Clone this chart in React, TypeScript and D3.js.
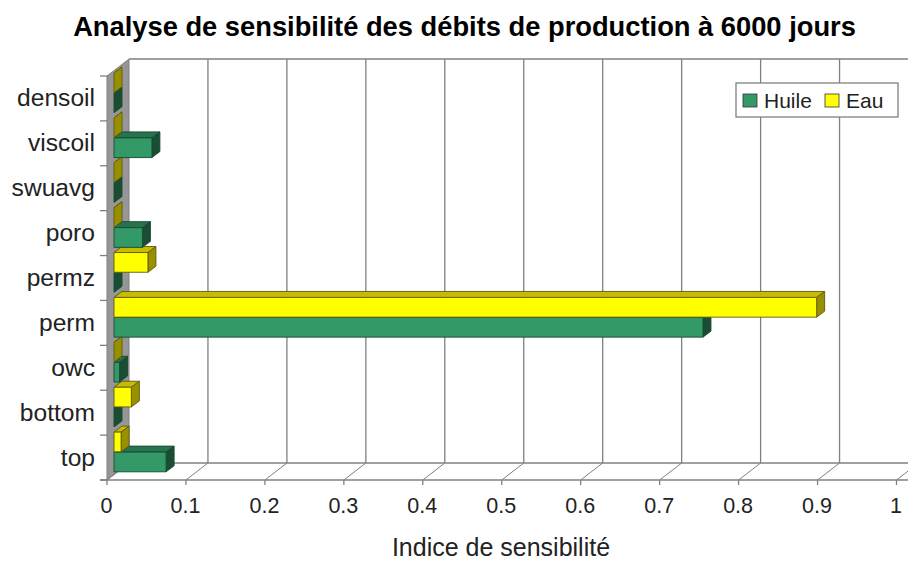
import React from "react";
import * as d3 from "d3";

const categories = ["densoil", "viscoil", "swuavg", "poro", "permz", "perm", "owc", "bottom", "top"];
const huile = [0, 0.048, 0, 0.036, 0, 0.746, 0.007, 0, 0.066];
const eau = [0, 0, 0, 0, 0.043, 0.89, 0, 0.022, 0.009];
const ticks = [0, 0.1, 0.2, 0.3, 0.4, 0.5, 0.6, 0.7, 0.8, 0.9, 1];

const W = 908, H = 561;
const font = "'Liberation Sans', Arial, sans-serif";
const x = d3.scaleLinear().domain([0, 1]).range([107, 896.5]);
const y = d3.scaleBand<string>().domain(categories).range([76, 480]);
const backDx = 22, backDy = -17;
const barDx = 7, barDy = -5.5;
const depthX = 8, depthY = -6;
const grid = "#808080";

const series = [
  { name: "Huile", values: huile, face: "#339966", top: "#26734d", side: "#1a4d33", offset: 22.5, stroke: "#174a30" },
  { name: "Eau", values: eau, face: "#ffff00", top: "#c8bc00", side: "#999000", offset: 2.5, stroke: "#5e5a10" },
];
const barH = 19.7;

function Bar({ v, cat, s }: { v: number; cat: string; s: (typeof series)[number] }) {
  const x0 = x(0) + barDx;
  const x1 = x(v) + barDx;
  const y0 = (y(cat) as number) + barDy + s.offset;
  const y1 = y0 + barH;
  const pts = (p: number[][]) => p.map((a) => a.join(",")).join(" ");
  return (
    <g stroke={s.stroke} strokeWidth={0.9} strokeLinejoin="round">
      <polygon fill={s.top} points={pts([[x0, y0], [x0 + depthX, y0 + depthY], [x1 + depthX, y0 + depthY], [x1, y0]])} />
      <polygon fill={s.side} points={pts([[x1, y0], [x1 + depthX, y0 + depthY], [x1 + depthX, y1 + depthY], [x1, y1]])} />
      {v > 0 && <rect x={x0} y={y0} width={x1 - x0} height={barH} fill={s.face} />}
    </g>
  );
}

export default function App() {
  const top = y.range()[0], bottom = y.range()[1];
  const ink = "#222";
  const indices = categories.map((_, i) => i);
  return (
    <svg width={W} height={H} viewBox={`0 0 ${W} ${H}`} style={{ position: "absolute", left: 0, top: 0, background: "#fff" }}>
      <text x={464.5} y={36} textAnchor="middle" fontFamily={font} fontWeight="bold" fontSize={27.3} fill="#000">
        Analyse de sensibilité des débits de production à 6000 jours
      </text>

      {/* left wall */}
      <polygon
        points={`${x(0)},${top} ${x(0) + backDx},${top + backDy} ${x(0) + backDx},${bottom + backDy} ${x(0)},${bottom}`}
        fill="#969696" stroke="#808080" strokeWidth={1}
      />
      {/* back frame */}
      <line x1={x(0) + backDx} x2={W} y1={top + backDy} y2={top + backDy} stroke={grid} strokeWidth={1.5} />
      <line x1={x(0) + backDx} x2={W} y1={bottom + backDy} y2={bottom + backDy} stroke={grid} strokeWidth={1.5} />
      <line x1={x(0) - 7} x2={W} y1={bottom} y2={bottom} stroke={grid} strokeWidth={1.5} />

      {ticks.map((t) => (
        <g key={t}>
          {t > 0 && <line x1={x(t) + backDx} x2={x(t) + backDx} y1={top + backDy} y2={bottom + backDy} stroke={grid} strokeWidth={1.3} />}
          <line x1={x(t)} y1={bottom} x2={x(t) + backDx} y2={bottom + backDy} stroke={grid} strokeWidth={1} />
          <line x1={x(t)} x2={x(t)} y1={bottom} y2={bottom + 5} stroke={grid} strokeWidth={1.3} />
          <text x={x(t) - 0.5} y={513} textAnchor="middle" fontFamily={font} fontSize={21.5} fill={ink}>{t}</text>
        </g>
      ))}

      {/* category ticks */}
      {[...categories.map((c) => y(c) as number), bottom].map((p, i) => (
        <line key={i} x1={x(0) - 7} x2={x(0)} y1={p} y2={p} stroke={grid} strokeWidth={1.3} />
      ))}

      {/* painted from the bottom category upward so upper faces overlap lower tops */}
      {[...indices].reverse().map((i) => (
        <g key={categories[i]}>
          {series.map((s) => (
            <Bar key={s.name} v={s.values[i]} cat={categories[i]} s={s} />
          ))}
        </g>
      ))}

      {categories.map((c) => (
        <text key={c} x={95} y={(y(c) as number) + y.bandwidth() / 2 + 8} textAnchor="end" fontFamily={font} fontSize={24.6} fill={ink}>{c}</text>
      ))}

      {/* legend */}
      <rect x={736} y={83} width={162} height={34} fill="#fff" stroke="#808080" strokeWidth={1.3} />
      <rect x={743} y={94} width={14} height={13} fill="#339966" stroke="#333" strokeWidth={0.8} />
      <text x={764} y={108} fontFamily={font} fontSize={21} fill={ink}>Huile</text>
      <rect x={825} y={94} width={14} height={13} fill="#ffff00" stroke="#333" strokeWidth={0.8} />
      <text x={846} y={108} fontFamily={font} fontSize={21} fill={ink}>Eau</text>

      <text x={501} y={555.5} textAnchor="middle" fontFamily={font} fontSize={25} fill={ink}>Indice de sensibilité</text>
    </svg>
  );
}
